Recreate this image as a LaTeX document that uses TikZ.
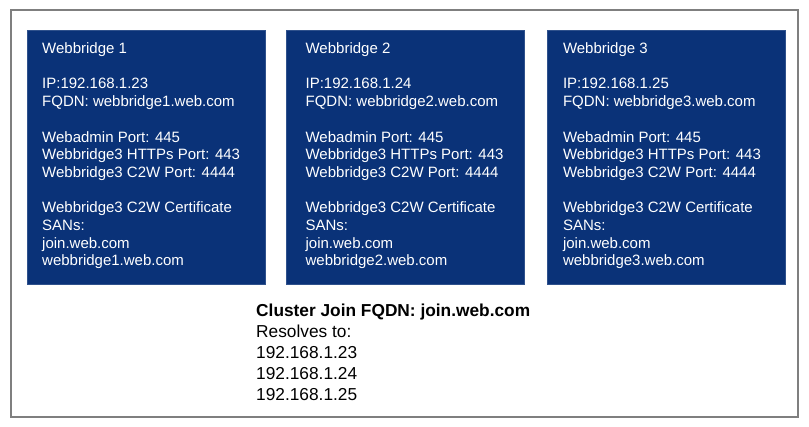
\documentclass[tikz,border=0pt]{standalone}
\usepackage{fontspec}
\setmainfont{Liberation Sans}
\usetikzlibrary{positioning}
\definecolor{wbblue}{HTML}{0A3278}
\definecolor{framegray}{HTML}{7F7F7F}
\tikzset{
  wbbox/.style={fill=wbblue, draw=wbblue!85!white, minimum width=238pt, minimum height=254pt, anchor=north west, inner sep=0pt},
  wbtext/.style={text=white, align=left, anchor=north west, inner sep=0pt, font=\fontsize{15}{17.7}\selectfont},
  dnstext/.style={align=left, anchor=north west, inner sep=0pt, font=\fontsize{17.3}{21}\selectfont}
}
\newcommand{\gap}{\\[17.7pt]}

\begin{document}
\begin{tikzpicture}[x=1pt,y=-1pt]
  \useasboundingbox (0,0) rectangle (809,427);
  \draw[framegray, line width=1.2pt] (11,10) rectangle (798,417);

  % the three webbridges
  \node[wbbox] (wb1) at (27,30) {};
  \node[wbbox, right=21pt of wb1] (wb2) {};
  \node[wbbox, right=22pt of wb2] (wb3) {};

  \node[wbtext, below right=12.5pt and 15pt of wb1.north west] (wb1txt) {Webbridge 1\gap
    IP:192.168.1.23\\ FQDN: webbridge1.web.com\gap
    Webadmin Port: 445\\ Webbridge3 HTTPs Port: 443\\ Webbridge3 C2W Port: 4444\gap
    Webbridge3 C2W Certificate\\ SANs:\\ join.web.com\\ webbridge1.web.com};
  \node[wbtext, below right=12.5pt and 19pt of wb2.north west] (wb2txt) {Webbridge 2\gap
    IP:192.168.1.24\\ FQDN: webbridge2.web.com\gap
    Webadmin Port: 445\\ Webbridge3 HTTPs Port: 443\\ Webbridge3 C2W Port: 4444\gap
    Webbridge3 C2W Certificate\\ SANs:\\ join.web.com\\ webbridge2.web.com};
  \node[wbtext, below right=12.5pt and 16pt of wb3.north west] (wb3txt) {Webbridge 3\gap
    IP:192.168.1.25\\ FQDN: webbridge3.web.com\gap
    Webadmin Port: 445\\ Webbridge3 HTTPs Port: 443\\ Webbridge3 C2W Port: 4444\gap
    Webbridge3 C2W Certificate\\ SANs:\\ join.web.com\\ webbridge3.web.com};

  % cluster dns
  \node[dnstext] (dns) at (256,304) {\textbf{Cluster Join FQDN: join.web.com}\\
    Resolves to:\\ 192.168.1.23\\ 192.168.1.24\\ 192.168.1.25};
\end{tikzpicture}
\end{document}
